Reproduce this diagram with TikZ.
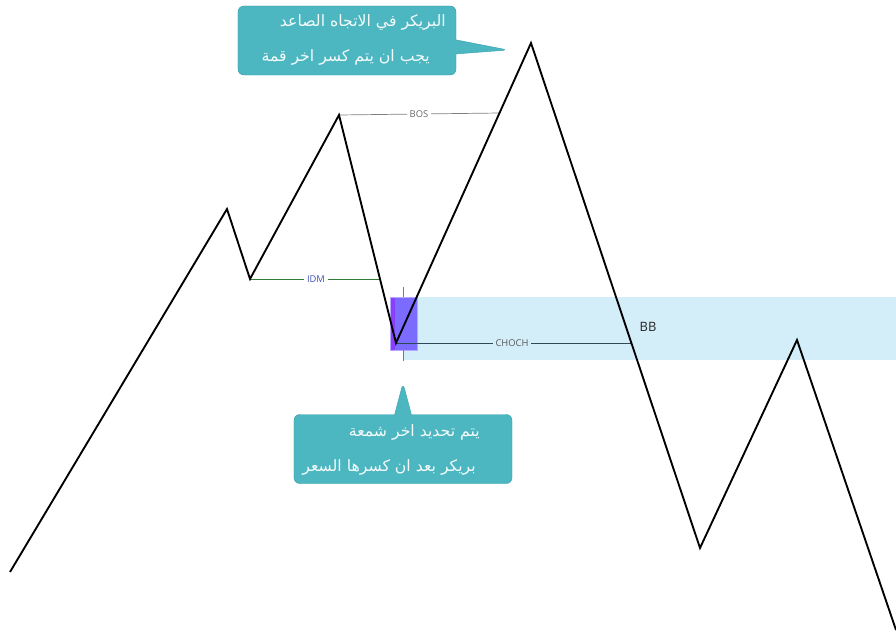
\documentclass[tikz,border=0pt]{standalone}
\usepackage{fontspec}
\setsansfont{Open Sans}
\newfontfamily\arabicfont[Script=Arabic]{DejaVu Sans}
\TeXXeTstate=1
\usepackage{xcolor}
\usetikzlibrary{shapes.callouts}
\definecolor{notefill}{HTML}{4CB6C1}
\definecolor{notedraw}{HTML}{3AA3AF}
\definecolor{zonefill}{HTML}{D4EEF9}
\definecolor{candlefill}{HTML}{7B6BFF}
\definecolor{candleleft}{HTML}{8A3EFF}
\definecolor{candledraw}{HTML}{B9A6FF}
\definecolor{idmgreen}{HTML}{2E7D32}
\definecolor{idmblue}{HTML}{3F51B5}
\definecolor{chochline}{HTML}{2F4A55}

\begin{document}
\begin{tikzpicture}[
  x=0.03cm, y=-0.03cm,
  price/.style={line width=1.6pt, line join=miter},
  note/.style={rectangle callout, fill=notefill, draw=notedraw, rounded corners=5pt,
    minimum width=6.54cm, minimum height=2.07cm, inner sep=0pt},
  notetext/.style={font=\arabicfont\fontsize{13.4}{16}\selectfont, text=white!94!notefill, anchor=east, inner sep=0pt},
  lvl/.style={font=\sffamily\fontsize{8}{9}\selectfont, inner sep=2pt},
]
\useasboundingbox (0,0) rectangle (896,642);
% zone and candle
\fill[zonefill] (403,297) rectangle (896,360);
\draw[candledraw, line width=0.8pt] (403,287) -- (403,361);
\fill[candlefill, draw=candledraw, line width=0.4pt] (390,297) rectangle (417,350);
\fill[candleleft] (390.5,297.5) rectangle (395,349.5);
\draw[candledraw!60!blue, line width=0.5pt] (403,287) -- (403,297);
\draw[candledraw!60!blue, line width=0.5pt] (403,350) -- (403,361);
% swing points
\coordinate (p1) at (10,572);
\coordinate (p2) at (227,209);
\coordinate (p3) at (250,279);
\coordinate (p4) at (339,115);
\coordinate (p5) at (396,343);
\coordinate (p6) at (531,43);
\coordinate (p7) at (700,548);
\coordinate (p8) at (797,340);
\coordinate (p9) at (896,630);
\coordinate (idmend) at (380,279);
\coordinate (bosend) at (500,113);
\coordinate (chochend) at (631,343);
% levels
\node[lvl, fill=white, text=idmblue] (idm) at (316,279) {IDM};
\draw[idmgreen, line width=0.6pt] (p3) -- (idm) -- (idmend);
\node[lvl, fill=white, text=gray!80!black] (bos) at (419,114) {BOS};
\draw[gray, line width=0.6pt] (p4) -- (bos) -- (bosend);
\node[lvl, fill=zonefill, text=gray!70!black] (choch) at (512,343) {CHOCH};
\draw[chochline, line width=0.6pt] (p5) -- (choch) -- (chochend);
\node[font=\sffamily\fontsize{11}{13}\selectfont, text=black!85] (bb) at (648,327) {BB};
% price path
\draw[price] (p1) -- (p2) -- (p3) -- (p4) -- (p5) -- (p6) -- (p7) -- (p8) -- (p9);
% notes
\coordinate (tip1) at (508,50);
\coordinate (tip2) at (403,383);
\node[note, callout absolute pointer={(tip1)}, callout pointer width=0.42cm] (note1) at (347,40.5) {};
\node[notetext] (note1a) at (446,22) {\beginR البريكر في الاتجاه الصاعد\endR};
\node[notetext] (note1b) at (430,57) {\beginR يجب ان يتم كسر اخر قمة\endR};
\node[note, callout absolute pointer={(tip2)}, callout pointer width=0.5cm] (note2) at (403,449) {};
\node[notetext] (note2a) at (480,432) {\beginR يتم تحديد اخر شمعة\endR};
\node[notetext] (note2b) at (476,467) {\beginR بريكر بعد ان كسرها السعر\endR};
\end{tikzpicture}
\end{document}
